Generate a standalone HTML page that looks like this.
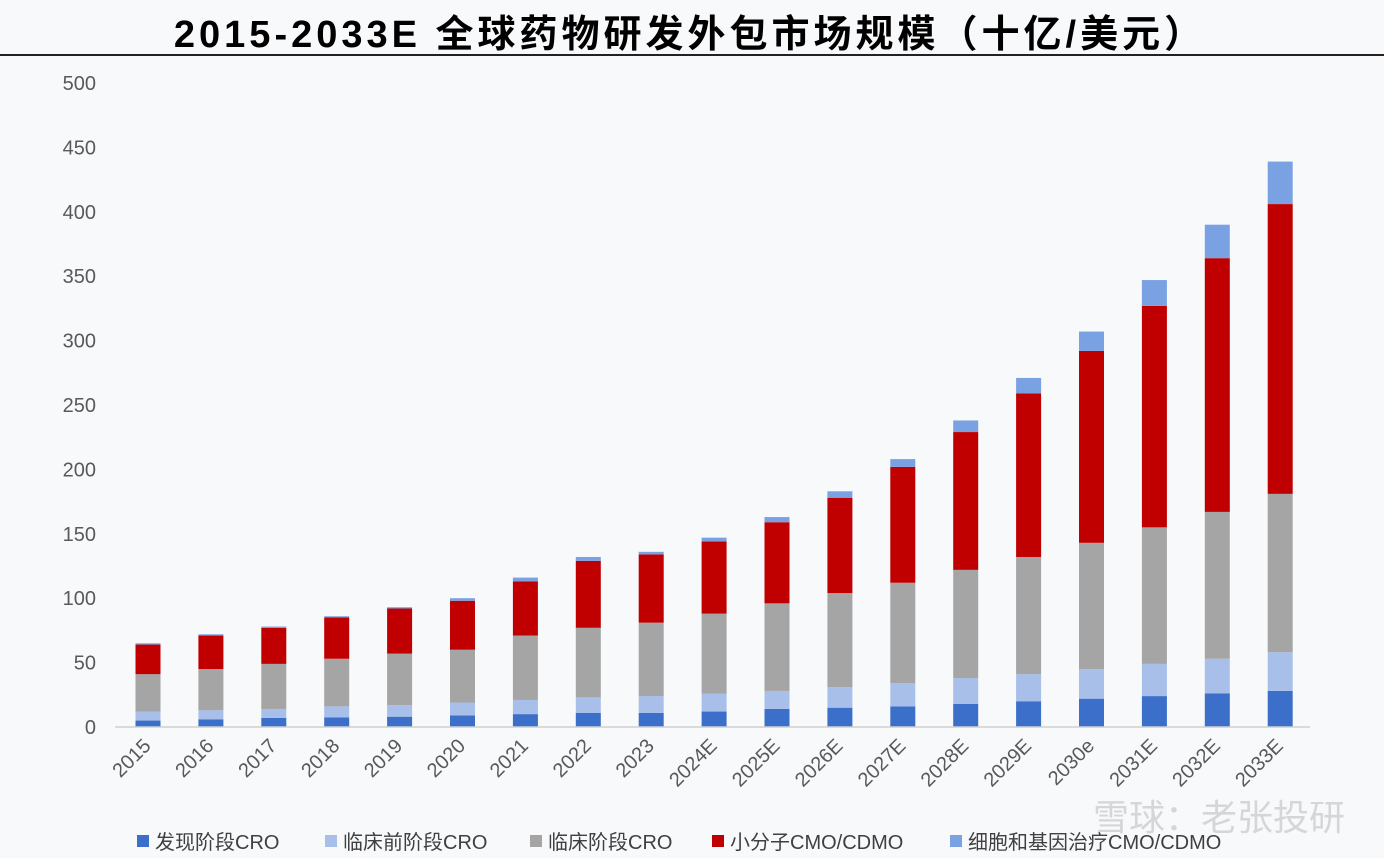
<!DOCTYPE html>
<html><head><meta charset="utf-8">
<style>
body{margin:0;background:#f8f9fb;}
svg{display:block;font-family:"Liberation Sans","Noto Sans CJK SC",sans-serif;}
</style></head>
<body>
<svg id="chart" width="1384" height="858" viewBox="0 0 1384 858">
<rect width="1384" height="858" fill="#f8f9fb"/>
<text x="690" y="47" text-anchor="middle" font-size="38" font-weight="bold" letter-spacing="4" fill="#000">2015-2033E 全球药物研发外包市场规模（十亿/美元）</text>
<line x1="0" y1="55" x2="1384" y2="55" stroke="#222" stroke-width="2"/>
<g id="yaxis"></g>
<g id="bars"></g>
<line x1="115" y1="727" x2="1310" y2="727" stroke="#d0d0d0" stroke-width="1.5"/>
<g id="xaxis"></g>
<g id="legend"></g>
<text x="1345" y="830" text-anchor="end" font-size="36" fill="#d0d0d0" opacity="0.85">雪球：老张投研</text>
</svg>
<script>
const categories=["2015","2016","2017","2018","2019","2020","2021","2022","2023","2024E","2025E","2026E","2027E","2028E","2029E","2030e","2031E","2032E","2033E"];
const discovery=[5,6,7,7.5,8,9,10,11,11,12,14,15,16,18,20,22,24,26,28];
const preclinical=[7,7,7,8.5,9,10,11,12,13,14,14,16,18,20,21,23,25,27,30];
const clinical=[29,32,35,37,40,41,50,54,57,62,68,73,78,84,91,98,106,114,123];
const smallMolecule=[23,26,28,32,35,38,42,52,53,56,63,74,90,107,127,149,172,197,225];
const cellGene=[1,1,1,1,1,2,3,3,2,3,4,5,6,9,12,15,20,26,33];
const yTicks=[0,50,100,150,200,250,300,350,400,450,500];
const seriesNames=["发现阶段CRO","临床前阶段CRO","临床阶段CRO","小分子CMO/CDMO","细胞和基因治疗CMO/CDMO"];
const seriesColors=["#3b6fc9","#a8bfe9","#a5a5a5","#c00000","#7aa2e3"];
const NS="http://www.w3.org/2000/svg";
function y(v){return 727-v*644/500;}
function x(i){return 148+i*62.9;}
function mk(tag,attrs,parent){const e=document.createElementNS(NS,tag);for(const k in attrs)e.setAttribute(k,attrs[k]);parent.appendChild(e);return e;}
const ya=document.getElementById('yaxis');
yTicks.forEach(t=>{const e=mk('text',{x:96,y:y(t)+7,'text-anchor':'end','font-size':20,fill:'#595959'},ya);


e.textContent=t;});
const series=[discovery,preclinical,clinical,smallMolecule,cellGene];
const bg=document.getElementById('bars');
categories.forEach((c,i)=>{let base=0;series.forEach((s,k)=>{const r=mk('rect',{x:x(i)-12.5,y:y(base+s[i]),width:25,height:y(base)-y(base+s[i]),fill:seriesColors[k]},bg);


base+=s[i];});});
const xa=document.getElementById('xaxis');
categories.forEach((c,i)=>{const tx=x(i)+4,ty=747;const e=mk('text',{x:tx,y:ty,'text-anchor':'end','font-size':20,fill:'#595959',transform:`rotate(-45 ${tx} ${ty})`},xa);


e.textContent=c;});
const lg=document.getElementById('legend');
const lx=[137,325,530,712,950];
seriesNames.forEach((n,k)=>{const g=mk('g',{},lg);


mk('rect',{x:lx[k],y:835,width:12,height:12,fill:seriesColors[k]},g);
const t=mk('text',{x:lx[k]+18,y:849,'font-size':20,fill:'#404040'},g);t.textContent=n;});
</script>
</body></html>
